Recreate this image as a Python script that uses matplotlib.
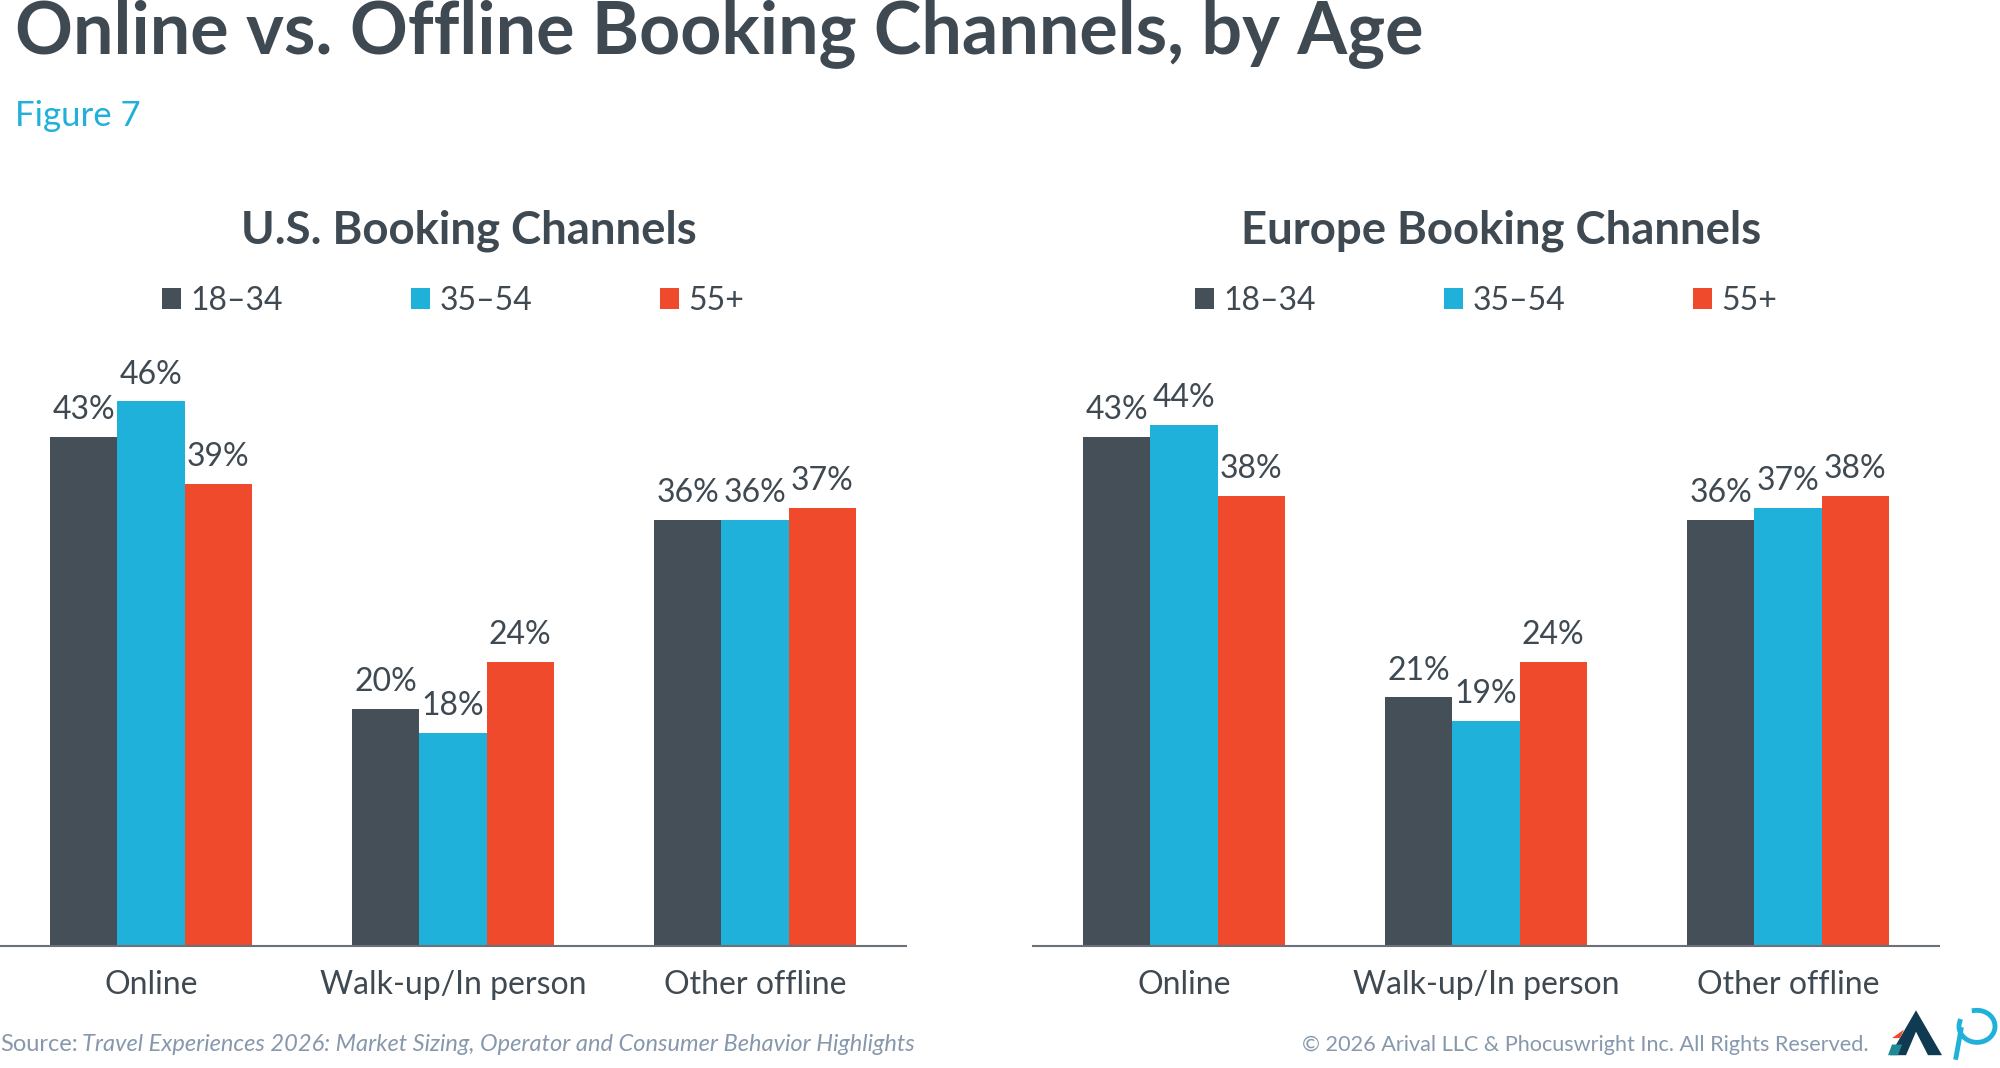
import numpy as np
import matplotlib.pyplot as plt
from matplotlib.patches import Polygon

categories = ["Online", "Walk-up/In person", "Other offline"]
ages = ["18\u201334", "35\u201354", "55+"]
us_1834 = [43, 20, 36]
us_3554 = [46, 18, 36]
us_55 = [39, 24, 37]
eu_1834 = [43, 21, 36]
eu_3554 = [44, 19, 37]
eu_55 = [38, 24, 38]

colors = ["#454f58", "#20b1da", "#f04a2c"]
dark = "#3f4952"
foot = "#8798ad"

plt.rcParams['font.family'] = ['Lato', 'DejaVu Sans']

fig = plt.figure(figsize=(20, 10.68), dpi=100)
fig.patch.set_facecolor("white")

fig.text(0.0075, 0.95, "Online vs. Offline Booking Channels, by Age", fontsize=51.7,
         fontweight="bold", color=dark, va="baseline", ha="left")
fig.text(0.0075, 0.882, "Figure 7", fontsize=25, color="#1fb1d9", va="baseline", ha="left")

w = 0.222


def panel(ax, title, series, title_x):
    x = np.arange(len(categories))
    for i, (vals, c) in enumerate(zip(series, colors)):
        bars = ax.bar(x + (i - 1) * w, vals, width=w, color=c, label=ages[i])
        for b, v in zip(bars, vals):
            ax.text(b.get_x() + b.get_width() / 2, v + 1.0, f"{v}%", ha="center",
                    va="bottom", fontsize=23, color=dark, clip_on=False)
    ax.set_xlim(-0.5, 2.5)
    ax.set_ylim(0, 50)
    for s in ["top", "right", "left"]:
        ax.spines[s].set_visible(False)
    ax.spines["bottom"].set_color("#6b7178")
    ax.spines["bottom"].set_linewidth(1.5)
    ax.set_yticks([])
    ax.set_xticks(x)
    ax.set_xticklabels(categories, fontsize=23, color=dark)
    ax.tick_params(axis="x", length=0, pad=17)
    fig.text(title_x, 0.772, title, fontsize=32.8, fontweight="bold", color=dark,
             ha="center", va="baseline")
    leg = ax.legend(loc="center", bbox_to_anchor=(0.5, 1.09), ncol=3, frameon=False,
                    fontsize=23, handlelength=0.6, handleheight=0.6, handletextpad=0.3,
                    columnspacing=4.0, labelcolor=dark)
    return leg


ax1 = fig.add_axes([0.0, 0.1142, 0.453, 0.5543])
ax2 = fig.add_axes([0.5165, 0.1142, 0.453, 0.5543])
panel(ax1, "U.S. Booking Channels", [us_1834, us_3554, us_55], 0.2345)
panel(ax2, "Europe Booking Channels", [eu_1834, eu_3554, eu_55], 0.7505)

fig.text(0.0, 0.016, "Source:", fontsize=17, color=foot, ha="left", va="baseline")
fig.text(0.041, 0.016, "Travel Experiences 2026: Market Sizing, Operator and Consumer Behavior Highlights",
         fontsize=17, color=foot, style="italic", ha="left", va="baseline")
fig.text(0.9345, 0.016, "\u00a9 2026 Arival LLC & Phocuswright Inc. All Rights Reserved.",
         fontsize=15.6, color=foot, ha="right", va="baseline")

# simple logo marks
fig.patches.append(Polygon([[0.945, 0.012], [0.958, 0.054], [0.971, 0.012], [0.964, 0.012], [0.958, 0.034], [0.953, 0.012]],
                           closed=True, transform=fig.transFigure, facecolor="#0f3a52", edgecolor="none"))
fig.patches.append(Polygon([[0.946, 0.028], [0.950, 0.028], [0.952, 0.036]],
                           closed=True, transform=fig.transFigure, facecolor="#f04a2c", edgecolor="none"))
fig.patches.append(Polygon([[0.944, 0.012], [0.949, 0.012], [0.951, 0.022], [0.946, 0.022]],
                           closed=True, transform=fig.transFigure, facecolor="#1f8a96", edgecolor="none"))
tt = np.linspace(-1.1 * np.pi, 0.55 * np.pi, 60)
px = 0.9885 + 0.009 * np.cos(tt)
py = 0.039 + 0.015 * np.sin(tt)
fig.lines.append(plt.Line2D(px, py, transform=fig.transFigure, color="#20b1da", lw=3.5))
fig.lines.append(plt.Line2D([0.9805, 0.978], [0.036, 0.010], transform=fig.transFigure, color="#20b1da", lw=3.5))

fig.savefig("out.png", dpi=100)
